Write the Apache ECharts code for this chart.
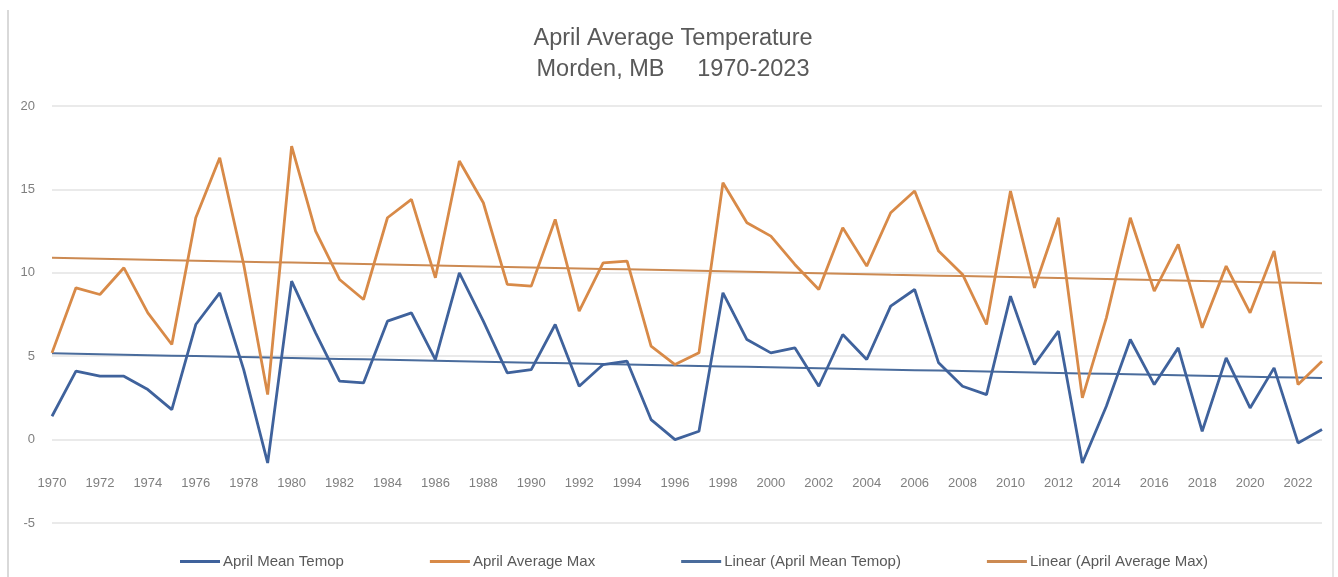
<!DOCTYPE html>
<html>
<head>
<meta charset="utf-8">
<script src="https://cdn.jsdelivr.net/npm/echarts@6/dist/echarts.min.js"></script>
<style>
html,body{margin:0;padding:0;background:#fff;}
#chart{width:1338px;height:577px;}
</style>
</head>
<body>
<div id="chart"></div>
<script>
const years = ['1970','1971','1972','1973','1974','1975','1976','1977','1978','1979',
  '1980','1981','1982','1983','1984','1985','1986','1987','1988','1989',
  '1990','1991','1992','1993','1994','1995','1996','1997','1998','1999',
  '2000','2001','2002','2003','2004','2005','2006','2007','2008','2009',
  '2010','2011','2012','2013','2014','2015','2016','2017','2018','2019',
  '2020','2021','2022','2023'];

const meanTemp = [1.4, 4.1, 3.8, 3.8, 3.0, 1.8, 6.9, 8.8, 4.2, -1.4,
  9.5, 6.4, 3.5, 3.4, 7.1, 7.6, 4.8, 10.0, 7.1, 4.0,
  4.2, 6.9, 3.2, 4.5, 4.7, 1.2, 0.0, 0.5, 8.8, 6.0,
  5.2, 5.5, 3.2, 6.3, 4.8, 8.0, 9.0, 4.6, 3.2, 2.7,
  8.6, 4.5, 6.5, -1.4, 2.0, 6.0, 3.3, 5.5, 0.5, 4.9,
  1.9, 4.3, -0.2, 0.6];

const avgMax = [5.2, 9.1, 8.7, 10.3, 7.6, 5.7, 13.3, 16.9, 10.5, 2.7,
  17.6, 12.5, 9.6, 8.4, 13.3, 14.4, 9.7, 16.7, 14.2, 9.3,
  9.2, 13.2, 7.7, 10.6, 10.7, 5.6, 4.5, 5.2, 15.4, 13.0,
  12.2, 10.5, 9.0, 12.7, 10.4, 13.6, 14.9, 11.3, 9.9, 6.9,
  14.9, 9.1, 13.3, 2.5, 7.3, 13.3, 8.9, 11.7, 6.7, 10.4,
  7.6, 11.3, 3.3, 4.7];

const yTicks = { min: -5, max: 20, interval: 5 };

const seriesNames = ['April Mean Temop', 'April Average Max',
  'Linear (April Mean Temop)', 'Linear (April Average Max)'];

function linearFit(vals) {
  const n = vals.length;
  let sx = 0, sy = 0, sxx = 0, sxy = 0;
  for (let i = 0; i < n; i++) { sx += i; sy += vals[i]; sxx += i * i; sxy += i * vals[i]; }
  const b = (n * sxy - sx * sy) / (n * sxx - sx * sx);
  const a = (sy - b * sx) / n;
  return vals.map((_, i) => +(a + b * i).toFixed(3));
}

const blue = '#3F629C';
const orange = '#D88A48';
const blueTrend = '#4A6C9C';
const orangeTrend = '#CC8A52';

const chart = echarts.init(document.getElementById('chart'));
chart.setOption({
  animation: false,
  backgroundColor: '#ffffff',
  title: {
    text: 'April Average Temperature\nMorden, MB     1970-2023',
    left: 668,
    textAlign: 'center',
    top: 18,
    textStyle: { fontFamily: 'Liberation Sans', fontSize: 23.5, fontWeight: 'normal', color: '#595959', lineHeight: 31 }
  },
  legend: {
    left: 175,
    top: 549,
    itemWidth: 40,
    itemHeight: 3,
    itemGap: 86,
    icon: 'rect',
    data: seriesNames,
    textStyle: { fontFamily: 'Liberation Sans', fontSize: 15, color: '#595959', padding: [0, 0, 0, -2] }
  },
  grid: { left: 52, right: 16, top: 106, bottom: 54, containLabel: false },
  xAxis: {
    type: 'category',
    data: years,
    boundaryGap: false,
    position: 'bottom',
    offset: -84,
    axisLine: { show: false, onZero: false },
    axisTick: { show: false },
    axisLabel: { interval: 1, margin: 38, fontFamily: 'Liberation Sans', fontSize: 13, color: '#7F7F7F' },
    splitLine: { show: false }
  },
  yAxis: {
    type: 'value',
    min: yTicks.min, max: yTicks.max, interval: yTicks.interval,
    axisLine: { show: false },
    axisTick: { show: false },
    axisLabel: { margin: 17, fontFamily: 'Liberation Sans', fontSize: 13, color: '#7F7F7F' },
    splitLine: { show: true, lineStyle: { color: '#E3E3E3', width: 1.5 } }
  },
  series: [
    { name: seriesNames[0], type: 'line', data: meanTemp, symbol: 'none', z: 3,
      lineStyle: { color: blue, width: 2.8 }, itemStyle: { color: blue } },
    { name: seriesNames[1], type: 'line', data: avgMax, symbol: 'none', z: 3,
      lineStyle: { color: orange, width: 2.8 }, itemStyle: { color: orange } },
    { name: seriesNames[2], type: 'line', data: linearFit(meanTemp), symbol: 'none', z: 2,
      lineStyle: { color: blueTrend, width: 2 }, itemStyle: { color: blueTrend } },
    { name: seriesNames[3], type: 'line', data: linearFit(avgMax), symbol: 'none', z: 2,
      lineStyle: { color: orangeTrend, width: 2 }, itemStyle: { color: orangeTrend } }
  ],
  graphic: [
    { type: 'line', shape: { x1: 8, y1: 10, x2: 8, y2: 577 }, style: { stroke: '#D9D9D9', lineWidth: 2 } },
    { type: 'line', shape: { x1: 1333, y1: 10, x2: 1333, y2: 577 }, style: { stroke: '#E6E6E6', lineWidth: 2 } }
  ]
});
</script>
</body>
</html>
